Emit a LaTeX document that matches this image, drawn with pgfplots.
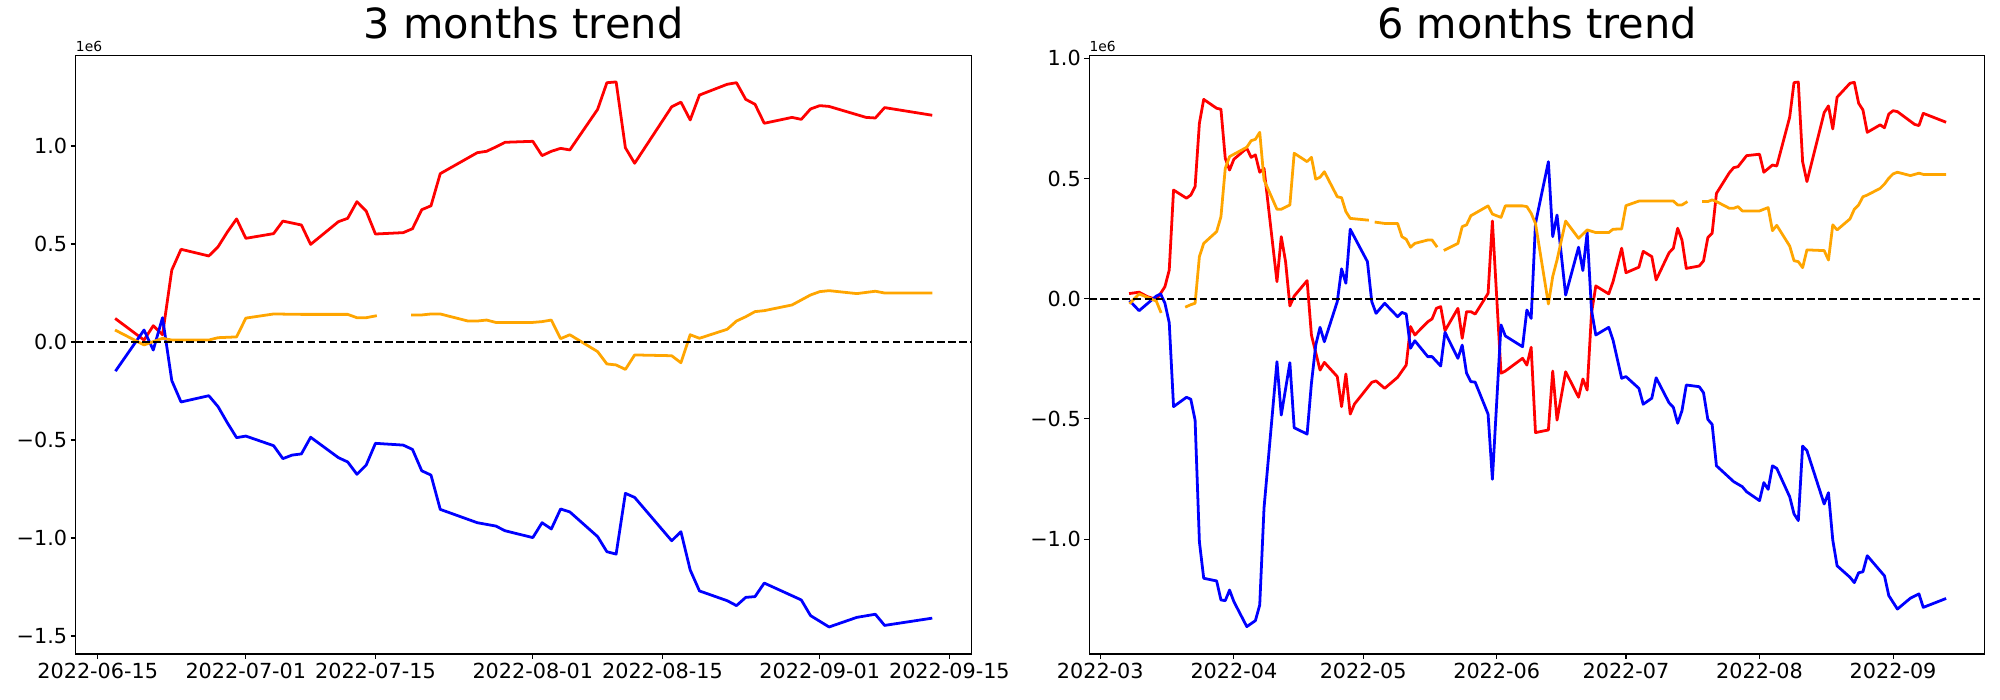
\documentclass[border=0pt]{standalone}
\usepackage{fontspec}
\setmainfont{DejaVu Sans}
\usepackage{pgfplots}
\pgfplotsset{compat=1.18}

\definecolor{mplorange}{RGB}{255,165,0}

% x values are day offsets: left panel from 2022-06-15, right panel from 2022-03-01
\pgfplotsset{trend/.style={
    scale only axis, width=644.8bp, height=431.1bp, anchor=south west,
    axis line style={line width=0.8bp},
    tick align=outside, major tick length=3.5bp,
    tick style={black, line width=0.8bp},
    xtick pos=bottom, ytick pos=left,
    ticklabel style={font=\fontsize{15}{18}\selectfont},
    xticklabel style={inner sep=2.5bp},
    yticklabel style={inner sep=2.5bp},
    title style={font=\fontsize{30}{36}\selectfont, at={(0.5,1)}, anchor=base, yshift=6bp},
    unbounded coords=jump,
    every axis plot/.append style={line width=2bp, line join=round, line cap=rect},
    extra description/.code={
      \node[anchor=base west, inner sep=0pt, font=\fontsize{10}{12}\selectfont]
        at ([yshift=3bp]0,1) {1e6};
    },
}}

\begin{document}
\begin{tikzpicture}
\path[use as bounding box] (0,0) rectangle (1440bp,504bp);

% ---------------- 3 months ----------------
\begin{axis}[trend,
    at={(54.5bp,33.1bp)},
    title={3 months trend},
    xmin=-2.38, xmax=94.36, ymin=-1.592, ymax=1.463,
    xtick={0,16,30,47,61,78,92},
    xticklabels={2022-06-15,2022-07-01,2022-07-15,2022-08-01,2022-08-15,2022-09-01,2022-09-15},
    ytick={-1.5,-1,-0.5,0,0.5,1},
    yticklabels={−1.5,−1.0,−0.5,0.0,0.5,1.0},
]
\addplot[red] coordinates {
(2,0.116)(5,0.010)(6,0.083)(7,0.037)(8,0.367)(9,0.473)(12,0.439)(13,0.486)
(14,0.561)(15,0.628)(16,0.529)(19,0.553)(20,0.617)(22,0.597)(23,0.498)(26,0.614)
(27,0.631)(28,0.716)(29,0.668)(30,0.551)(33,0.558)(34,0.578)(35,0.675)(36,0.695)
(37,0.859)(41,0.966)(42,0.973)(43,0.995)(44,1.019)(47,1.024)(48,0.951)(49,0.973)
(50,0.988)(51,0.980)(54,1.187)(55,1.323)(56,1.327)(57,0.991)(58,0.912)(62,1.200)
(63,1.224)(64,1.133)(65,1.260)(68,1.315)(69,1.323)(70,1.238)(71,1.213)(72,1.116)
(75,1.146)(76,1.136)(77,1.189)(78,1.206)(79,1.202)(83,1.146)(84,1.143)(85,1.196)
(90,1.158)
};
\addplot[blue] coordinates {
(2,-0.143)(5,0.061)(6,-0.041)(7,0.124)(8,-0.197)(9,-0.306)(12,-0.274)(13,-0.330)
(14,-0.412)(15,-0.488)(16,-0.480)(19,-0.529)(20,-0.595)(21,-0.577)(22,-0.571)(23,-0.486)
(26,-0.590)(27,-0.612)(28,-0.675)(29,-0.628)(30,-0.517)(33,-0.526)(34,-0.548)(35,-0.657)
(36,-0.679)(37,-0.854)(41,-0.922)(43,-0.939)(44,-0.963)(47,-0.998)(48,-0.922)(49,-0.954)
(50,-0.852)(51,-0.867)(54,-0.993)(55,-1.070)(56,-1.082)(57,-0.772)(58,-0.793)(62,-1.014)
(63,-0.968)(64,-1.163)(65,-1.270)(68,-1.320)(69,-1.345)(70,-1.303)(71,-1.299)(72,-1.230)
(76,-1.316)(77,-1.396)(79,-1.454)(82,-1.405)(84,-1.389)(85,-1.446)(90,-1.410)
};
\addplot[mplorange] coordinates {
(2,0.058)(5,-0.015)(6,0.002)(7,0.019)(8,0.010)(12,0.010)(13,0.022)(15,0.026)
(16,0.122)(19,0.143)(22,0.141)(27,0.141)(28,0.124)(29,0.124)(30,0.133)(33,nan)
(34,0.138)(35,0.138)(36,0.143)(37,0.143)(40,0.107)(41,0.107)(42,0.112)(43,0.100)
(47,0.100)(48,0.104)(49,0.112)(50,0.017)(51,0.037)(54,-0.049)(55,-0.112)(56,-0.117)
(57,-0.140)(58,-0.066)(62,-0.070)(63,-0.106)(64,0.037)(65,0.019)(68,0.065)(69,0.107)
(70,0.129)(71,0.155)(72,0.160)(75,0.189)(77,0.240)(78,0.257)(79,0.262)(82,0.247)
(84,0.259)(85,0.250)(90,0.250)
};
\addplot[black, line width=1.5bp, dash pattern=on 5.55bp off 2.4bp, line cap=butt]
  coordinates {(-2.38,0)(94.36,0)};
\end{axis}

% ---------------- 6 months ----------------
\begin{axis}[trend,
    at={(784.3bp,33.1bp)},
    title={6 months trend},
    xmin=-2.55, xmax=205.3, ymin=-1.478, ymax=1.0125,
    xtick={0,31,61,92,122,153,184},
    xticklabels={2022-03,2022-04,2022-05,2022-06,2022-07,2022-08,2022-09},
    ytick={-1,-0.5,0,0.5,1},
    yticklabels={−1.0,−0.5,0.0,0.5,1.0},
]
\addplot[red] coordinates {
(7,0.022)(9,0.027)(11,0.008)(13,-0.003)(14,0.022)(15,0.050)(16,0.119)(17,0.452)
(20,0.418)(21,0.431)(22,0.466)(23,0.730)(24,0.829)(27,0.792)(28,0.788)(29,0.584)
(30,0.535)(31,0.580)(34,0.626)(35,0.588)(36,0.598)(37,0.526)(38,0.542)(41,0.071)
(42,0.258)(43,0.154)(44,-0.030)(45,0.011)(48,0.075)(49,-0.151)(51,-0.297)(52,-0.265)
(55,-0.324)(56,-0.449)(57,-0.313)(58,-0.480)(59,-0.438)(63,-0.348)(64,-0.342)(66,-0.373)
(69,-0.327)(71,-0.276)(72,-0.116)(73,-0.151)(76,-0.096)(77,-0.084)(78,-0.040)(79,-0.033)
(80,-0.133)(83,-0.040)(84,-0.165)(85,-0.054)(86,-0.054)(87,-0.064)(90,0.022)(91,0.323)
(93,-0.310)(94,-0.301)(98,-0.248)(99,-0.276)(100,-0.202)(101,-0.557)(104,-0.546)(105,-0.301)
(106,-0.505)(108,-0.304)(111,-0.410)(112,-0.334)(113,-0.380)(114,-0.061)(115,0.053)(118,0.020)
(119,0.071)(121,0.210)(122,0.108)(125,0.131)(126,0.197)(128,0.175)(129,0.078)(132,0.191)
(133,0.210)(134,0.293)(135,0.244)(136,0.126)(139,0.136)(140,0.157)(141,0.254)(142,0.272)
(143,0.438)(146,0.524)(147,0.545)(148,0.549)(150,0.595)(153,0.601)(154,0.526)(156,0.556)
(157,0.552)(160,0.755)(161,0.899)(162,0.901)(163,0.570)(164,0.487)(168,0.774)(169,0.802)
(170,0.706)(171,0.838)(174,0.896)(175,0.900)(176,0.813)(177,0.785)(178,0.692)(181,0.723)
(182,0.711)(183,0.768)(184,0.782)(185,0.778)(189,0.725)(190,0.720)(191,0.771)(196,0.736)
};
\addplot[blue] coordinates {
(7,-0.012)(9,-0.050)(13,0.011)(14,0.020)(15,-0.019)(16,-0.100)(17,-0.449)(20,-0.410)
(21,-0.418)(22,-0.505)(23,-1.011)(24,-1.163)(27,-1.174)(28,-1.253)(29,-1.256)(30,-1.212)
(31,-1.260)(34,-1.364)(36,-1.339)(37,-1.274)(38,-0.870)(41,-0.262)(42,-0.484)(44,-0.266)
(45,-0.537)(48,-0.563)(49,-0.352)(50,-0.193)(51,-0.119)(52,-0.179)(55,-0.012)(56,0.124)
(57,0.064)(58,0.289)(62,0.154)(63,-0.012)(64,-0.061)(66,-0.019)(69,-0.075)(70,-0.057)
(71,-0.064)(72,-0.206)(73,-0.175)(76,-0.241)(77,-0.241)(79,-0.280)(80,-0.140)(83,-0.248)
(84,-0.193)(85,-0.310)(86,-0.345)(87,-0.347)(90,-0.480)(91,-0.751)(93,-0.109)(94,-0.155)
(98,-0.200)(99,-0.047)(100,-0.082)(101,0.313)(104,0.570)(105,0.258)(106,0.348)(108,0.015)
(111,0.214)(112,0.117)(113,0.275)(114,-0.047)(115,-0.151)(118,-0.119)(119,-0.172)(121,-0.331)
(122,-0.324)(125,-0.373)(126,-0.439)(128,-0.414)(129,-0.329)(132,-0.433)(133,-0.452)(134,-0.518)
(135,-0.466)(136,-0.359)(139,-0.366)(140,-0.391)(141,-0.502)(142,-0.523)(143,-0.695)(147,-0.761)
(149,-0.782)(150,-0.803)(153,-0.840)(154,-0.765)(155,-0.793)(156,-0.695)(157,-0.706)(160,-0.824)
(161,-0.895)(162,-0.923)(163,-0.613)(164,-0.632)(168,-0.854)(169,-0.807)(170,-1.004)(171,-1.111)
(174,-1.159)(175,-1.181)(176,-1.140)(177,-1.136)(178,-1.069)(182,-1.153)(183,-1.235)(185,-1.291)
(188,-1.246)(190,-1.228)(191,-1.284)(196,-1.249)
};
\addplot[mplorange] coordinates {
(7,-0.017)(9,0.020)(11,0.005)(13,-0.010)(14,-0.054)(15,nan)(20,-0.033)(21,-0.025)
(22,-0.019)(23,0.175)(24,0.230)(27,0.279)(28,0.341)(29,0.542)(30,0.591)(34,0.630)
(35,0.657)(36,0.663)(37,0.692)(38,0.494)(41,0.372)(42,0.372)(44,0.390)(45,0.605)
(48,0.570)(49,0.588)(50,0.497)(51,0.505)(52,0.528)(55,0.424)(56,0.420)(57,0.362)
(58,0.334)(62,0.327)(63,nan)(64,0.318)(66,0.313)(69,0.313)(70,0.258)(71,0.247)
(72,0.214)(73,0.230)(76,0.244)(77,0.244)(78,0.219)(79,nan)(80,0.203)(83,0.230)
(84,0.300)(85,0.307)(86,0.345)(90,0.386)(91,0.352)(93,0.338)(94,0.386)(98,0.386)
(99,0.383)(100,0.355)(101,0.313)(104,-0.022)(105,0.092)(106,0.161)(108,0.323)(111,0.251)
(113,0.286)(115,0.275)(118,0.275)(119,0.289)(121,0.290)(122,0.387)(125,0.406)(133,0.406)
(134,0.390)(135,0.390)(136,0.401)(139,nan)(140,0.404)(141,0.404)(142,0.411)(143,0.404)
(146,0.376)(147,0.376)(148,0.383)(149,0.365)(153,0.365)(154,0.372)(155,0.379)(156,0.283)
(157,0.305)(160,0.219)(161,0.158)(162,0.154)(163,0.129)(164,0.203)(168,0.200)(169,0.161)
(170,0.307)(171,0.286)(174,0.332)(175,0.372)(176,0.390)(177,0.424)(178,0.431)(181,0.459)
(182,0.477)(183,0.501)(184,0.519)(185,0.526)(188,0.512)(190,0.522)(191,0.517)(196,0.517)
};
\addplot[black, line width=1.5bp, dash pattern=on 5.55bp off 2.4bp, line cap=butt]
  coordinates {(-2.55,0)(205.3,0)};
\end{axis}
\end{tikzpicture}
\end{document}
